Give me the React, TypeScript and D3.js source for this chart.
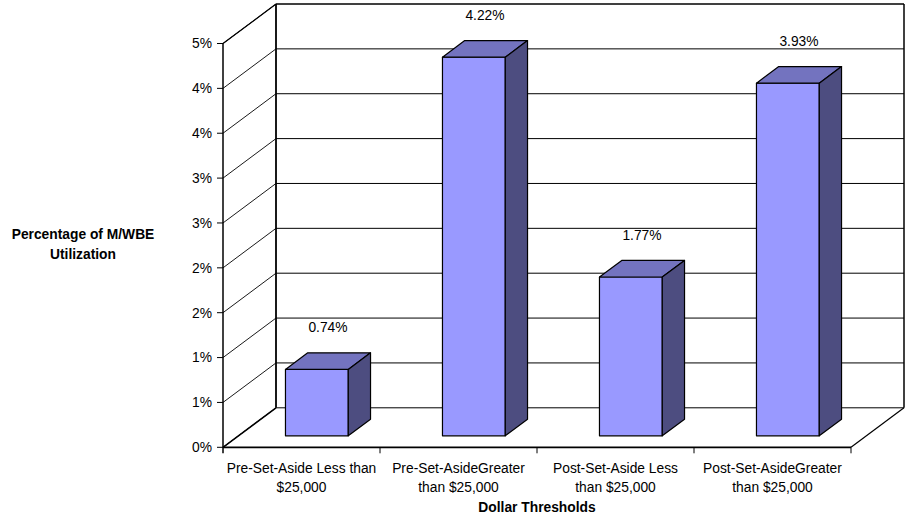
import React from "react";
import * as d3 from "d3";

// Categories (two text lines each) and utilization values in percent
const categoryLines: string[][] = [
  ["Pre-Set-Aside Less than", "$25,000"],
  ["Pre-Set-AsideGreater", "than $25,000"],
  ["Post-Set-Aside Less", "than $25,000"],
  ["Post-Set-AsideGreater", "than $25,000"],
];
const categories = categoryLines.map((l) => l.join(" "));
const values = [0.74, 4.22, 1.77, 3.93];
const valueLabels = ["0.74%", "4.22%", "1.77%", "3.93%"];

// Axis ticks (percent) and their labels as formatted by the axis
const tickValues = [0, 0.5, 1, 1.5, 2, 2.5, 3, 3.5, 4, 4.5];
const tickLabels = ["0%", "1%", "1%", "2%", "2%", "3%", "3%", "4%", "4%", "5%"];

const yTitleLines = ["Percentage of M/WBE", "Utilization"];
const xTitle = "Dollar Thresholds";

const W = 905;
const H = 515;
const FONT = "'Liberation Sans', Arial, Helvetica, sans-serif";
const FS = 13.8;

// Oblique depth offset of the 3D box
const DX = 53;
const DY = -39.5;
const DEPTH_FRONT = 0.29;
const DEPTH_BACK = 0.71;
const BAR_FRACTION = 0.4;

const FRONT = "#9999FF";
const TOP = "#7373BF";
const SIDE = "#4D4D80";

export default function App() {
  const x = d3.scaleBand<string>().domain(categories).range([223, 851]).padding(0);
  const y = d3.scaleLinear().domain([0, 4.5]).range([447.3, 43.5]);
  const [x0, x1] = x.range();
  const yMax = y.domain()[1];

  const P = (px: number, v: number, d: number): [number, number] => [px + d * DX, y(v) + d * DY];
  const pts = (arr: [number, number][]) => arr.map((p) => p.join(",")).join(" ");
  const line = d3.line();

  const bw = x.bandwidth();
  const barW = bw * BAR_FRACTION;

  return (
    <svg
      width={W}
      height={H}
      style={{ position: "absolute", left: 0, top: 0, display: "block", background: "#fff" }}
      fontFamily={FONT}
    >
      {/* back wall gridlines */}
      {tickValues.map((t, i) => (
        <line
          key={"bg" + i}
          x1={P(x0, t, 1)[0]}
          x2={P(x1, t, 1)[0]}
          y1={P(x0, t, 1)[1]}
          y2={P(x1, t, 1)[1]}
          stroke="#000"
          strokeWidth={1}
        />
      ))}
      {/* side wall gridlines */}
      {tickValues.map((t, i) => (
        <path
          key={"sg" + i}
          d={line([P(x0, t, 0), P(x0, t, 1)]) || ""}
          stroke="#000"
          strokeWidth={0.9}
          fill="none"
        />
      ))}
      {/* wall edges */}
      <path d={line([P(x0, 0, 0), P(x0, 0, 1)]) || ""} stroke="#000" strokeWidth={1.5} fill="none" />
      <path d={line([P(x0, yMax, 0), P(x0, yMax, 1)]) || ""} stroke="#000" strokeWidth={1.2} fill="none" />
      <path d={line([P(x0, 0, 1), P(x0, yMax, 1)]) || ""} stroke="#000" strokeWidth={1.8} fill="none" />
      <path d={line([P(x0, yMax, 1), P(x1, yMax, 1)]) || ""} stroke="#000" strokeWidth={1.2} fill="none" />
      <path d={line([P(x1, 0, 1), P(x1, yMax, 1)]) || ""} stroke="#000" strokeWidth={1.5} fill="none" />
      {/* floor */}
      <path d={line([P(x1, 0, 0), P(x1, 0, 1)]) || ""} stroke="#000" strokeWidth={1.2} fill="none" />

      {/* bars */}
      {values.map((v, i) => {
        const c = (x(categories[i]) as number) + bw / 2;
        const l = c - barW / 2;
        const r = c + barW / 2;
        const a = DEPTH_FRONT;
        const b = DEPTH_BACK;
        const front = [P(l, 0, a), P(r, 0, a), P(r, v, a), P(l, v, a)];
        const top = [P(l, v, a), P(r, v, a), P(r, v, b), P(l, v, b)];
        const side = [P(r, 0, a), P(r, 0, b), P(r, v, b), P(r, v, a)];
        const lab = P(c, v, 0.5);
        return (
          <g key={"bar" + i}>
            <polygon points={pts(front)} fill={FRONT} stroke="#000" strokeWidth={1.2} strokeLinejoin="round" />
            <polygon points={pts(top)} fill={TOP} stroke="#000" strokeWidth={1.2} strokeLinejoin="round" />
            <polygon points={pts(side)} fill={SIDE} stroke="#000" strokeWidth={1.2} strokeLinejoin="round" />
            <text x={lab[0]} y={lab[1] - 29} textAnchor="middle" fontSize={FS} fill="#000">
              {valueLabels[i]}
            </text>
          </g>
        );
      })}

      {/* front value axis */}
      <line x1={x0} x2={x0} y1={y(yMax)} y2={y(0) + 6} stroke="#000" strokeWidth={1.5} />
      {tickValues.map((t, i) => (
        <g key={"yt" + i}>
          <line x1={x0 - 6} x2={x0} y1={y(t)} y2={y(t)} stroke="#000" strokeWidth={1} />
          <text x={x0 - 11} y={y(t)} dy="0.35em" textAnchor="end" fontSize={FS} fill="#000">
            {tickLabels[i]}
          </text>
        </g>
      ))}

      {/* front category axis */}
      <line x1={x0} x2={x1} y1={y(0)} y2={y(0)} stroke="#000" strokeWidth={1.8} />
      {categories.map((cat, i) => (
        <line
          key={"xt" + i}
          x1={(x(cat) as number) + bw}
          x2={(x(cat) as number) + bw}
          y1={y(0)}
          y2={y(0) + 6}
          stroke="#000"
          strokeWidth={1}
        />
      ))}
      {categoryLines.map((lines, i) => (
        <text
          key={"xl" + i}
          x={(x(categories[i]) as number) + bw / 2}
          textAnchor="middle"
          fontSize={FS}
          fill="#000"
        >
          {lines.map((s, j) => (
            <tspan key={j} x={(x(categories[i]) as number) + bw / 2} y={472.5 + j * 19.2}>
              {s}
            </tspan>
          ))}
        </text>
      ))}

      {/* axis titles */}
      <text x={(x0 + x1) / 2} y={511.5} textAnchor="middle" fontSize={FS} fontWeight="bold" fill="#000">
        {xTitle}
      </text>
      <text textAnchor="middle" fontSize={FS} fontWeight="bold" fill="#000">
        {yTitleLines.map((s, j) => (
          <tspan key={j} x={83} y={239 + j * 20}>
            {s}
          </tspan>
        ))}
      </text>
    </svg>
  );
}
